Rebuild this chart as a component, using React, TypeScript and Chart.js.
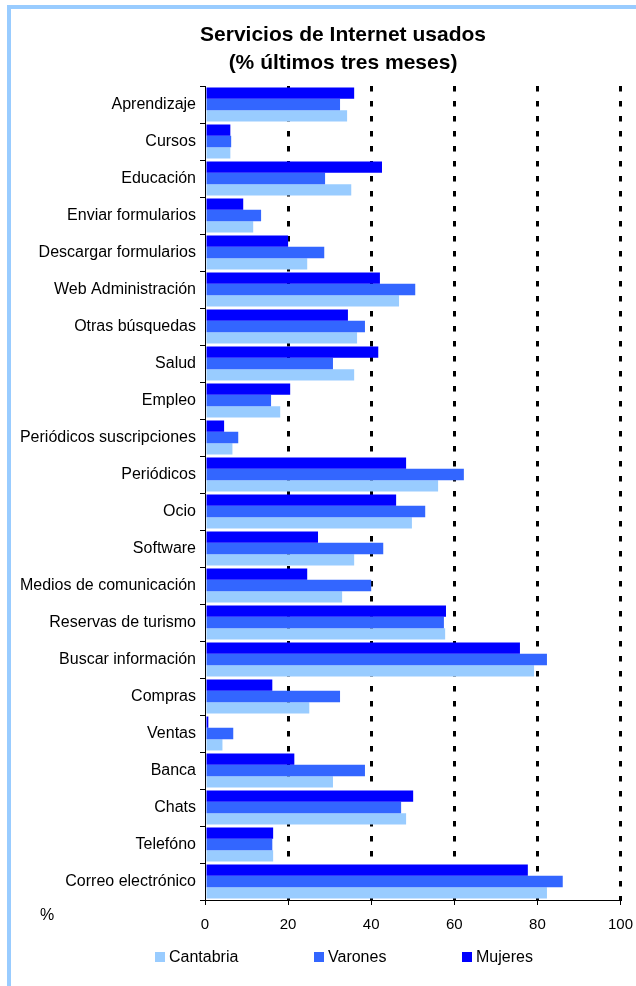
import React, { useEffect, useRef } from 'react';
import { Chart, registerables } from 'chart.js';

Chart.register(...registerables);

const categories = [
  'Aprendizaje',
  'Cursos',
  'Educación',
  'Enviar formularios',
  'Descargar formularios',
  'Web Administración',
  'Otras búsquedas',
  'Salud',
  'Empleo',
  'Periódicos suscripciones',
  'Periódicos',
  'Ocio',
  'Software',
  'Medios de comunicación',
  'Reservas de turismo',
  'Buscar información',
  'Compras',
  'Ventas',
  'Banca',
  'Chats',
  'Telefóno',
  'Correo electrónico',
];

const mujeres = [35.9, 6.1, 42.6, 9.2, 20.0, 42.1, 34.4, 41.7, 20.5, 4.6, 48.4, 46.0, 27.2, 24.6, 58.0, 75.8, 16.2, 0.8, 21.5, 50.1, 16.4, 77.7];
const varones = [32.5, 6.3, 28.9, 13.5, 28.7, 50.6, 38.5, 30.8, 15.9, 8.0, 62.3, 53.0, 42.9, 40.0, 57.5, 82.3, 32.5, 6.8, 38.5, 47.2, 16.2, 86.1];
const cantabria = [34.2, 6.1, 35.2, 11.6, 24.6, 46.7, 36.6, 35.9, 18.1, 6.6, 56.1, 49.8, 35.9, 33.0, 57.8, 79.2, 25.1, 4.2, 30.8, 48.4, 16.4, 82.3];

const seriesNames = ['Mujeres', 'Varones', 'Cantabria'];
const seriesColors = ['#0000FF', '#3366FF', '#99CCFF'];
const titleLines = ['Servicios de Internet usados', '(% últimos tres meses)'];
const unitLabel = '%';

const FONT = "'Liberation Sans', Arial, Helvetica, sans-serif";

export default function App() {
  const ref = useRef<HTMLCanvasElement>(null);

  useEffect(() => {
    const values = [mujeres, varones, cantabria];
    const chart = new Chart(ref.current as HTMLCanvasElement, {
      type: 'bar',
      data: {
        labels: categories,
        datasets: seriesNames.map((name, i) => ({
          label: name,
          data: values[i],
          backgroundColor: seriesColors[i],
          borderWidth: 0,
          categoryPercentage: 0.92,
          barPercentage: 1.0,
        })),
      },
      options: {
        indexAxis: 'y',
        responsive: false,
        maintainAspectRatio: false,
        animation: false,
        layout: { padding: { top: 86, left: 0, right: 15.5, bottom: 46 } },
        plugins: {
          legend: { display: false },
          title: { display: false },
          tooltip: { enabled: false },
        },
        scales: {
          x: {
            min: 0,
            max: 100,
            ticks: { stepSize: 20, color: '#000', font: { family: FONT, size: 15, lineHeight: 2.4 }, padding: 2 },
            grid: {
              color: (c: any) => (c.tick && c.tick.value === 0 ? 'rgba(0,0,0,0)' : '#000'),
              lineWidth: 3,
              drawTicks: true,
              tickLength: 5,
              tickColor: '#000',
              tickWidth: 1,
              tickBorderDash: [],
            },
            border: { display: true, color: '#000', width: 1, dash: [5.5, 9.5] },
            afterFit: (s: any) => {
              s.height = 40;
            },
          },
          y: {
            ticks: { color: '#000', font: { family: FONT, size: 16 }, padding: 4, autoSkip: false },
            grid: {
              drawOnChartArea: false,
              tickLength: 5,
              color: '#000',
              tickColor: '#000',
              lineWidth: 1,
            },
            border: { display: true, color: '#000', width: 1 },
            afterFit: (s: any) => {
              s.width = 205;
            },
          },
        },
      },
    } as any);
    return () => chart.destroy();
  }, []);

  const legendOrder = [2, 1, 0];
  const legendX = [155, 314, 462];

  return (
    <div style={{ position: 'absolute', left: 0, top: 0, width: 636, height: 986, background: '#fff', fontFamily: FONT, color: '#000' }}>
      <div
        style={{
          position: 'absolute',
          left: 7,
          top: 5,
          right: 0,
          bottom: 0,
          borderLeft: '4px solid #99CCFF',
          borderTop: '4px solid #99CCFF',
        }}
      />
      <canvas ref={ref} width={636} height={986} style={{ position: 'absolute', left: 0, top: 0, width: 636, height: 986 }} />
      <div
        style={{
          position: 'absolute',
          left: 143,
          top: 20,
          width: 400,
          textAlign: 'center',
          fontWeight: 'bold',
          fontSize: 21,
          lineHeight: '28px',
        }}
      >
        {titleLines.map((t) => (
          <div key={t}>{t}</div>
        ))}
      </div>
      <div style={{ position: 'absolute', left: 40, top: 906, fontSize: 16, lineHeight: '18px' }}>{unitLabel}</div>
      {legendOrder.map((si, k) => (
        <div key={seriesNames[si]} style={{ position: 'absolute', left: legendX[k], top: 948, height: 18, display: 'flex', alignItems: 'center' }}>
          <span style={{ display: 'inline-block', width: 10, height: 10, background: seriesColors[si], marginRight: 4 }} />
          <span style={{ fontSize: 16, lineHeight: '18px' }}>{seriesNames[si]}</span>
        </div>
      ))}
    </div>
  );
}
